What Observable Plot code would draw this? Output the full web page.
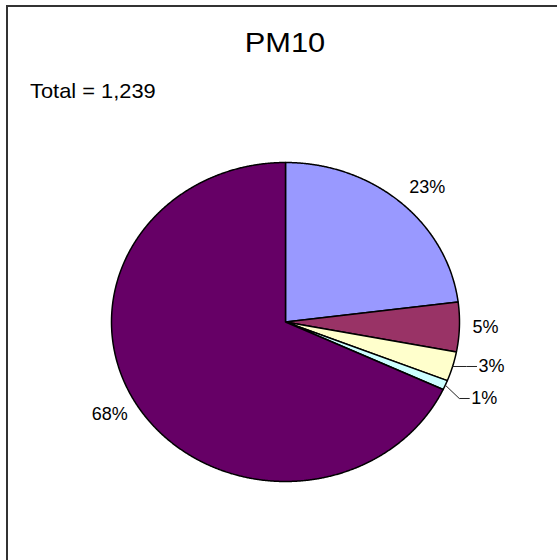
<!DOCTYPE html>
<html>
<head>
<meta charset="utf-8">
<script src="https://cdn.jsdelivr.net/npm/d3@7"></script>
<script src="https://cdn.jsdelivr.net/npm/@observablehq/plot@0.6"></script>
<style>
  html, body { margin: 0; padding: 0; background: #fff; }
  #wrap { position: relative; width: 557px; height: 560px; overflow: hidden; font-family: "Liberation Sans", Arial, sans-serif; }
  #frame { position: absolute; left: 6px; top: 5px; width: 620px; height: 620px; border: 2px solid #333; box-sizing: border-box; }
  #title { position: absolute; left: 0; width: 570px; top: 29px; text-align: center; font-size: 28px; line-height: 1; color: #000; transform: scaleX(1.1); transform-origin: 285px 0; }
  #total { position: absolute; left: 30px; top: 80px; font-size: 21px; line-height: 1; color: #000; transform: scaleX(1.04); transform-origin: 0 0; }
  #chart { position: absolute; left: 0; top: 0; }
</style>
</head>
<body>
<div id="wrap">
  <div id="frame"></div>
  <div id="title">PM10</div>
  <div id="total">Total = 1,239</div>
  <div id="chart"></div>
</div>
<script>
// ---- data ----
const categories = ["A", "B", "C", "D", "E"];
const values = [285, 62, 37, 12, 843];
const colors = ["#9999FF", "#993366", "#FFFFCC", "#CCFFFF", "#660066"];
const titleText = "PM10";
const totalLabel = "Total = 1,239";

// ---- layout ----
const W = 557, H = 560;
const mL = 111, mR = 98, mT = 162, mB = 79;
const rxPx = (W - mL - mR) / 2, ryPx = (H - mT - mB) / 2;
const labelSize = 18;

const total = d3.sum(values);
const pie = d3.pie().sort(null).value(d => d.value);
const arcs = pie(categories.map((c, i) => ({cat: c, value: values[i], color: colors[i]})));

// polygon points per slice
const pts = [];
for (const a of arcs) {
  const c = a.data;
  pts.push({cat: c.cat, color: c.color, x: 0, y: 0});
  const n = Math.max(2, Math.ceil((a.endAngle - a.startAngle) / 0.005));
  for (let k = 0; k <= n; k++) {
    const t = a.startAngle + (a.endAngle - a.startAngle) * k / n;
    pts.push({cat: c.cat, color: c.color, x: Math.sin(t), y: Math.cos(t)});
  }
  pts.push({cat: c.cat, color: c.color, x: 0, y: 0});
}

// labels: anchored just outside the edge, box on the outer side
const labels = [];
const leaders = [];
let lastSmallY = null;
for (const a of arcs) {
  const mid = (a.startAngle + a.endAngle) / 2;
  const pct = Math.round(a.data.value / total * 100) + "%";
  const share = a.data.value / total;
  const s = Math.sin(mid), c = Math.cos(mid);
  if (share >= 0.04) {
    const r = 1.075;
    labels.push({
      text: pct, x: r * s, y: r * c,
      ta: s >= 0 ? "start" : "end",
      la: c > 0.7 ? "bottom" : (c < -0.7 ? "top" : "middle")
    });
  } else {
    let ly = c;
    const minGap = 32 / ryPx;
    if (lastSmallY !== null && lastSmallY - ly < minGap) ly = lastSmallY - minGap;
    lastSmallY = ly;
    const elbowX = s + 14 / rxPx;
    const endX = s + 24 / rxPx;
    leaders.push({id: a.data.cat, x: s, y: c}, {id: a.data.cat, x: elbowX, y: ly}, {id: a.data.cat, x: endX, y: ly});
    labels.push({text: pct, x: endX + 2 / rxPx, y: ly, ta: "start", la: "middle"});
  }
}

const labelGroups = d3.groups(labels, d => d.ta + "|" + d.la);

const plot = Plot.plot({
  width: W, height: H,
  marginLeft: mL, marginRight: mR, marginTop: mT, marginBottom: mB,
  x: {domain: [-1, 1], axis: null},
  y: {domain: [-1, 1], axis: null},
  style: {background: "transparent", fontFamily: "'Liberation Sans', Arial, sans-serif"},
  marks: [
    Plot.line(pts, {x: "x", y: "y", z: "cat", fill: d => d.color, stroke: "#000", strokeWidth: 1.5, strokeLinejoin: "round", curve: "linear"}),
    Plot.line(leaders, {x: "x", y: "y", z: "id", stroke: "#222", strokeWidth: 1}),
    ...labelGroups.map(([key, rows]) => {
      const [ta, la] = key.split("|");
      return Plot.text(rows, {x: "x", y: "y", text: "text", fontSize: labelSize, fill: "#000", textAnchor: ta, lineAnchor: la});
    })
  ]
});
document.getElementById("chart").appendChild(plot);
document.getElementById("title").textContent = titleText;
document.getElementById("total").textContent = totalLabel;
</script>
</body>
</html>
